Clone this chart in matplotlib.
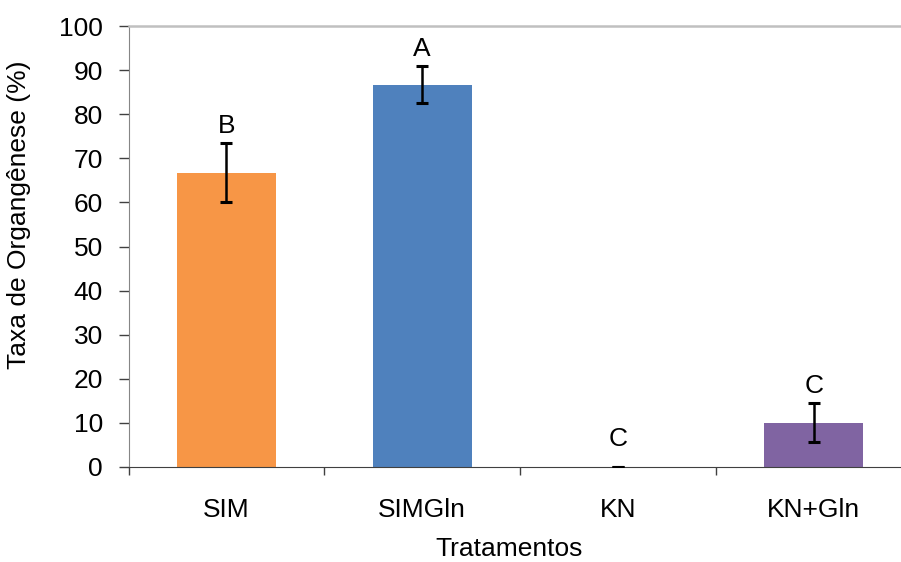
import numpy as np
import matplotlib
matplotlib.use('Agg')
from matplotlib import pyplot as plt

plt.rcParams['font.family'] = ['Liberation Sans', 'DejaVu Sans']

tratamentos = ['SIM', 'SIMGln', 'KN', 'KN+Gln']
taxa = [66.7, 86.7, 0.0, 10.0]
erro = [6.7, 4.2, 0.0, 4.4]
letras = ['B', 'A', 'C', 'C']
cores = ['#F79646', '#4F81BD', '#8064A2', '#8064A2']

fs = 19

fig = plt.figure(figsize=(9.01, 5.62), dpi=100)
ax = fig.add_axes([128.5 / 901, 1 - 467 / 562, 783 / 901, 441 / 562])

x = np.arange(len(tratamentos))
ax.bar(x, taxa, width=0.505, color=cores, zorder=2)
ax.errorbar(x, taxa, yerr=erro, fmt='none', ecolor='black', elinewidth=1.8,
            capsize=4, capthick=2.2, zorder=3)

# letras de significancia acima das barras
for i in range(len(x)):
    topo = max(taxa[i] + erro[i], 2.4)
    ax.text(x[i], topo + 1.2, letras[i], ha='center', va='bottom', fontsize=fs)

ax.set_xlim(-0.5, 3.5)
ax.set_ylim(0, 100)
ax.set_yticks(np.arange(0, 101, 10))
ax.set_xticks(x)
ax.set_xticklabels(tratamentos)
ax.set_xticks(np.arange(-0.5, 3.6, 1), minor=True)

ax.tick_params(axis='y', direction='out', length=7, width=1, color='#404040',
               labelsize=fs, pad=11.5)
ax.tick_params(axis='x', which='major', length=0, labelsize=fs, pad=22)
ax.tick_params(axis='x', which='minor', direction='out', length=6, width=1,
               color='#404040')

ax.spines['left'].set_color('#868686')
ax.spines['bottom'].set_color('#404040')
ax.spines['top'].set_color('#C0C0C0')
ax.spines['top'].set_linewidth(1.8)
ax.spines['right'].set_visible(False)

ax.set_ylabel('Taxa de Organgênese (%)', fontsize=fs)
ax.yaxis.label.set_va('center')
ax.yaxis.set_label_coords(-0.140, 0.571)
ax.set_xlabel('Tratamentos', fontsize=fs)
ax.xaxis.label.set_va('center')
ax.xaxis.set_label_coords(0.486, -0.187)

fig.savefig('out.png', dpi=100)
